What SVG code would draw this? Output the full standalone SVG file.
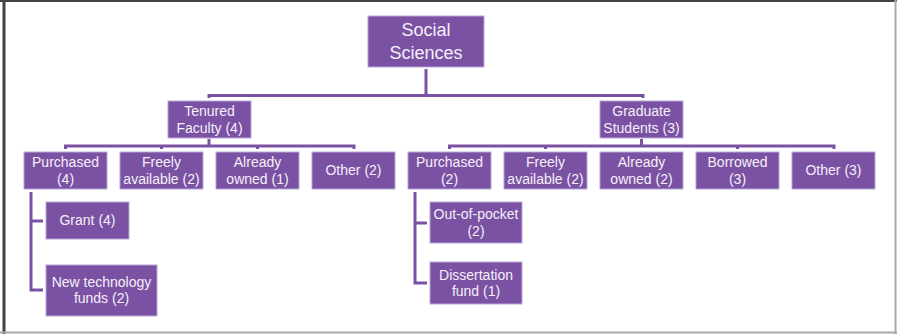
<svg xmlns="http://www.w3.org/2000/svg" width="897" height="334" viewBox="0 0 897 334">
<style>
.n rect{fill:#7b52a3;stroke:#b9a6d6;stroke-width:1}
.n text{fill:#f4eff8;font-family:"Liberation Sans",Arial,sans-serif;font-size:14px;text-anchor:middle}
#root text{font-size:18px}
#connectors path{fill:none;stroke:#7b52a3;stroke-width:3}
</style>
<rect x="0" y="0" width="897" height="334" fill="#ffffff"/>
<path d="M0 1H897" stroke="#444" stroke-width="2"/>
<path d="M4 0V334" stroke="#444" stroke-width="3"/>
<path d="M895.5 0V334" stroke="#aaa" stroke-width="2"/>
<path d="M0 332.5H897" stroke="#aaa" stroke-width="2"/>
<g id="connectors">
<path d="M426 69V95.5M209 98V95.5H643V98"/>
<path d="M209 139V146M65.5 149V146H354V149M161.5 149V146M257.5 149V146"/>
<path d="M641.5 139V146M449.5 149V146H834V149M545.5 149V146M737.5 149V146"/>
<path d="M31 192V290H43M31 221H43"/>
<path d="M415 192V283H427M415 223H427"/>
</g>
<g id="root" class="n"><rect x="368" y="16" width="116" height="51"/><text x="426" y="36">Social</text><text x="426" y="59">Sciences</text></g>
<g id="tenured" class="n"><rect x="168" y="101" width="83" height="37"/><text x="209.5" y="116">Tenured</text><text x="209.5" y="133">Faculty (4)</text></g>
<g id="grad" class="n"><rect x="600" y="101" width="83" height="37"/><text x="641.5" y="116">Graduate</text><text x="641.5" y="133">Students (3)</text></g>
<g id="tf-purchased" class="n"><rect x="24" y="152" width="83" height="37"/><text x="65.5" y="167">Purchased</text><text x="65.5" y="184">(4)</text></g>
<g id="tf-freely" class="n"><rect x="120" y="152" width="83" height="37"/><text x="161.5" y="167">Freely</text><text x="161.5" y="184">available (2)</text></g>
<g id="tf-owned" class="n"><rect x="216" y="152" width="83" height="37"/><text x="257.5" y="167">Already</text><text x="257.5" y="184">owned (1)</text></g>
<g id="tf-other" class="n"><rect x="312" y="152" width="83" height="37"/><text x="353.5" y="175">Other (2)</text></g>
<g id="gs-purchased" class="n"><rect x="408" y="152" width="83" height="37"/><text x="449.5" y="167">Purchased</text><text x="449.5" y="184">(2)</text></g>
<g id="gs-freely" class="n"><rect x="504" y="152" width="83" height="37"/><text x="545.5" y="167">Freely</text><text x="545.5" y="184">available (2)</text></g>
<g id="gs-owned" class="n"><rect x="600" y="152" width="83" height="37"/><text x="641.5" y="167">Already</text><text x="641.5" y="184">owned (2)</text></g>
<g id="gs-borrowed" class="n"><rect x="696" y="152" width="83" height="37"/><text x="737.5" y="167">Borrowed</text><text x="737.5" y="184">(3)</text></g>
<g id="gs-other" class="n"><rect x="792" y="152" width="83" height="37"/><text x="833.5" y="175">Other (3)</text></g>
<g id="grant" class="n"><rect x="46" y="202" width="83" height="37"/><text x="87.5" y="225">Grant (4)</text></g>
<g id="newtech" class="n"><rect x="46" y="265" width="111" height="51"/><text x="101.5" y="287">New technology</text><text x="101.5" y="303">funds (2)</text></g>
<g id="outofpocket" class="n"><rect x="430" y="202" width="92" height="41"/><text x="476" y="219">Out-of-pocket</text><text x="476" y="236">(2)</text></g>
<g id="dissertation" class="n"><rect x="430" y="262" width="92" height="42"/><text x="476" y="280">Dissertation</text><text x="476" y="296">fund (1)</text></g>
</svg>
